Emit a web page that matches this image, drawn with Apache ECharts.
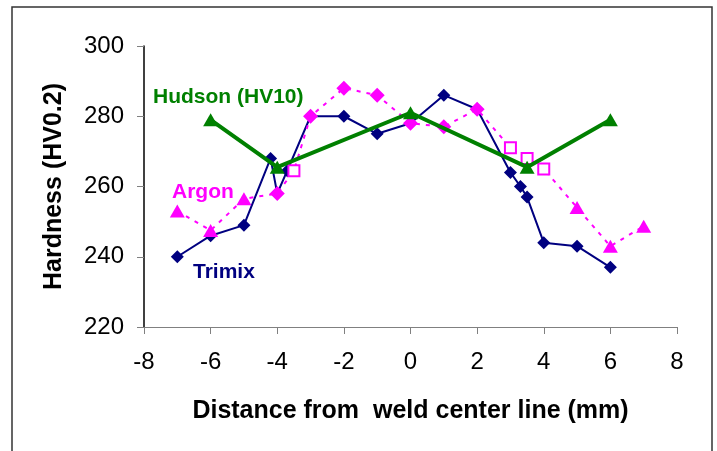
<!DOCTYPE html>
<html>
<head>
<meta charset="utf-8">
<script src="https://cdn.jsdelivr.net/npm/echarts@6/dist/echarts.min.js"></script>
<style>
  html, body { margin: 0; padding: 0; background: #fff; }
  #chart { width: 717px; height: 451px; }
</style>
</head>
<body>
<div id="chart"></div>
<script>
// hardness profiles across the weld
const xTicks = [-8, -6, -4, -2, 0, 2, 4, 6, 8];
const yTicks = [220, 240, 260, 280, 300];

const trimixX = [-7, -6, -5, -4.2, -4, -3.7, -3, -2, -1, 0, 1, 2, 3, 3.3, 3.5, 4, 5, 6];
const trimixY = [240, 246, 249, 268, 258, 264.5, 280, 280, 275, 278, 286, 282, 264, 260, 257, 244, 243, 237];

const argonX = [-7, -6, -5, -4, -3.5, -3, -2, -1, 0, 1, 2, 3, 3.5, 4, 5, 6, 7];
const argonY = [253, 247.5, 256.5, 258, 264.5, 280, 288, 286, 278, 277, 282, 271, 268, 265, 254, 243, 248.7];
const argonMarker = ['tri', 'tri', 'tri', 'dia', 'sq', 'dia', 'dia', 'dia', 'dia', 'dia', 'dia', 'sq', 'sq', 'sq', 'tri', 'tri', 'tri'];

const hudsonX = [-6, -4, 0, 3.5, 6];
const hudsonY = [279, 265.5, 281, 265.5, 279];

const FONT = 'Liberation Sans, Arial, sans-serif';
const NAVY = '#000080', MAGENTA = '#ff00ff', GREEN = '#008000';

function argonPoint(i) {
  const m = argonMarker[i];
  const item = { value: [argonX[i], argonY[i]] };
  if (m === 'tri') {
    item.symbol = 'triangle';
    item.symbolSize = [15, 13];
  } else if (m === 'sq') {
    item.symbol = 'rect';
    item.symbolSize = 11;
    item.itemStyle = { color: '#fff', borderColor: MAGENTA, borderWidth: 2 };
  } else {
    item.symbol = 'diamond';
    item.symbolSize = 15;
  }
  return item;
}

const chart = echarts.init(document.getElementById('chart'));
chart.setOption({
  animation: false,
  backgroundColor: '#fff',
  grid: { left: 144, right: 40, top: 46, bottom: 124 },
  xAxis: {
    type: 'value',
    min: xTicks[0], max: xTicks[xTicks.length - 1], interval: 2,
    name: 'Distance from  weld center line (mm)',
    nameLocation: 'middle', nameGap: 72,
    nameTextStyle: { fontFamily: FONT, fontSize: 25, fontWeight: 'bold', color: '#000' },
    axisLine: { onZero: false, lineStyle: { color: '#808080', width: 1 } },
    axisTick: { inside: false, length: 7, lineStyle: { color: '#808080' } },
    axisLabel: { fontFamily: FONT, fontSize: 24, color: '#000', margin: 23 },
    splitLine: { show: false }
  },
  yAxis: {
    type: 'value',
    min: yTicks[0], max: yTicks[yTicks.length - 1], interval: 20,
    name: 'Hardness (HV0.2)',
    nameLocation: 'middle', nameGap: 77,
    nameTextStyle: { fontFamily: FONT, fontSize: 25, fontWeight: 'bold', color: '#000' },
    axisLine: { show: true, onZero: false, lineStyle: { color: '#000', width: 1.5 } },
    axisTick: { show: true, length: 7, lineStyle: { color: '#808080' } },
    axisLabel: { fontFamily: FONT, fontSize: 24, color: '#000', margin: 20 },
    splitLine: { show: false }
  },
  series: [
    {
      name: 'Trimix', type: 'line', z: 2,
      data: trimixX.map((x, i) => [x, trimixY[i]]),
      symbol: 'diamond', symbolSize: 13,
      itemStyle: { color: NAVY },
      lineStyle: { color: NAVY, width: 2 }
    },
    {
      name: 'Argon', type: 'line', z: 3,
      data: argonX.map((x, i) => argonPoint(i)),
      itemStyle: { color: MAGENTA },
      lineStyle: { color: MAGENTA, width: 2, type: [4, 6] }
    },
    {
      name: 'Hudson (HV10)', type: 'line', z: 4,
      data: hudsonX.map((x, i) => [x, hudsonY[i]]),
      symbol: 'triangle', symbolSize: [15, 13],
      itemStyle: { color: GREEN },
      lineStyle: { color: GREEN, width: 4 }
    }
  ],
  graphic: [
    { type: 'rect', shape: { x: 12, y: 7, width: 700, height: 460 },
      style: { fill: 'none', stroke: '#333', lineWidth: 1.5 }, silent: true },
    { type: 'text', left: 153, top: 87,
      style: { text: 'Hudson (HV10)', font: 'bold 21px ' + FONT, fill: GREEN } },
    { type: 'text', left: 172, top: 182,
      style: { text: 'Argon', font: 'bold 21px ' + FONT, fill: MAGENTA } },
    { type: 'text', left: 193, top: 262,
      style: { text: 'Trimix', font: 'bold 21px ' + FONT, fill: NAVY } }
  ]
});
</script>
</body>
</html>
